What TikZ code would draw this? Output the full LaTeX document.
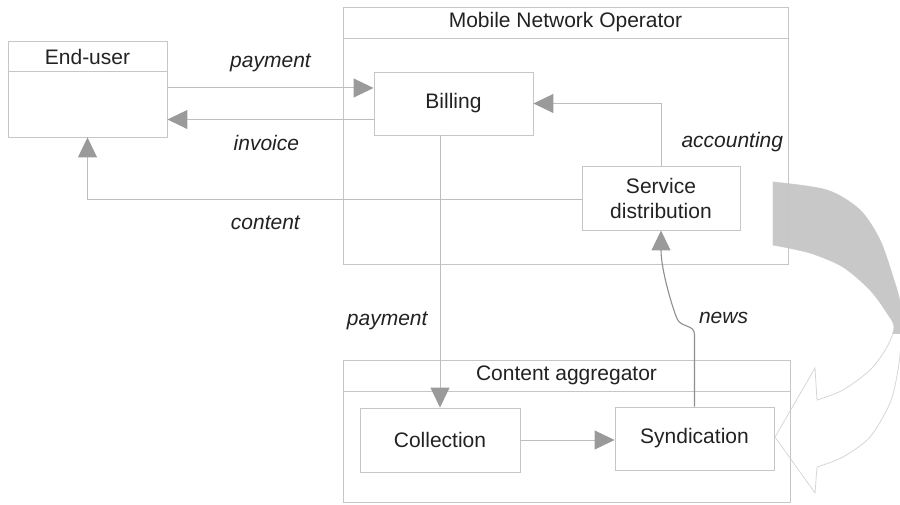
\documentclass[tikz,border=0pt]{standalone}
\usepackage{fontspec}
\setmainfont{Liberation Sans}
\usetikzlibrary{arrows.meta}

\definecolor{boxgray}{HTML}{C6C6C6}
\definecolor{linegray}{HTML}{BEBEBE}
\definecolor{headgray}{HTML}{9A9A9A}
\definecolor{newsgray}{HTML}{8E8E8E}
\definecolor{ringgray}{HTML}{C8C8C8}
\definecolor{ringline}{HTML}{D6D6D6}
\definecolor{textgray}{HTML}{222222}

\tikzset{
  box/.style={draw=boxgray, line width=0.9pt, rectangle, inner sep=0pt,
    font=\fontsize{21}{25}\selectfont, text=textgray, align=center},
  title/.style={font=\fontsize{21}{25}\selectfont, text=textgray},
  rule/.style={draw=boxgray, line width=0.9pt},
  lbl/.style={font=\fontsize{21}{25}\selectfont\itshape, text=textgray, inner sep=0pt},
  flow/.style={draw=linegray, line width=1pt,
    -{Triangle[length=20pt,width=19pt,color=headgray]}},
  newsflow/.style={flow, draw=newsgray, line width=1.1pt},
}

\begin{document}
\begin{tikzpicture}[x=1pt,y=1pt]
\useasboundingbox (0,0) rectangle (900,504);

% round arrow in the back, grey on top and open below
\draw[ringline, line width=0.8pt, save path=\ringpath]
  plot[smooth] coordinates {(773,322) (827,314) (860,294) (880,264) (893,227)
    (900,201) (901,164) (898,134) (890,101) (870,67) (843,47) (817,37)}
  -- (815,11) -- (775,67) -- (815,136) -- (817,104)
  -- plot[smooth] coordinates {(817,104) (843,114) (870,134) (887,157)
    (894,177) (887,191) (870,214) (843,237) (810,251) (773,259)}
  -- cycle;
\begin{scope}
  \clip (760,170) rectangle (900,330);
  \fill[ringgray, use path=\ringpath];
\end{scope}

% end-user
\node[box, minimum width=159pt, minimum height=96pt] (user) at (87.5,415) {};
\node[title] (usert) at ([yshift=-16pt]user.north) {End-user};
\draw[rule] ([yshift=-31pt]user.north west) -- ([yshift=-31pt]user.north east);

% operator
\node[box, minimum width=445pt, minimum height=257pt] (mno) at (565.5,368.5) {};
\node[title] (mnot) at ([yshift=-16pt]mno.north) {Mobile Network Operator};
\draw[rule] ([yshift=-32pt]mno.north west) -- ([yshift=-32pt]mno.north east);
\node[box, minimum width=159pt, minimum height=63pt] (billing) at (453.5,400.5) {Billing};
\node[box, minimum width=158pt, minimum height=64pt] (servdist) at (661,306) {Service\\distribution};

% aggregator
\node[box, minimum width=447pt, minimum height=142pt] (agg) at (566.5,73) {};
\node[title] (aggt) at ([yshift=-16pt]agg.north) {Content aggregator};
\draw[rule] ([yshift=-32pt]agg.north west) -- ([yshift=-32pt]agg.north east);
\node[box, minimum width=160pt, minimum height=64pt] (collection) at (440,64) {Collection};
\node[box, minimum width=159pt, minimum height=63pt] (synd) at (694.5,65.5) {Syndication};

% flows
\draw[flow] ([yshift=1pt]user.east) -- ([yshift=1pt]user.east -| billing.west)
  node[lbl, midway, yshift=25pt] {payment};
\draw[flow] ([yshift=-16pt]billing.west) -- ([yshift=-16pt]billing.west -| user.east)
  node[lbl, pos=0.52, yshift=-23pt] {invoice};
\draw[flow] ([yshift=-2pt]servdist.west) -| (user.south)
  node[lbl, pos=0.32, yshift=-23pt] {content};
\draw[flow] (servdist.north) |- (billing.east)
  node[lbl, pos=0.19, anchor=west, xshift=20pt] {accounting};
\draw[flow] (billing.south -| collection.north) -- (collection.north)
  node[lbl, pos=0.68, anchor=east, xshift=-12pt] {payment};
\draw[flow] (collection.east) -- (collection.east -| synd.west);
\draw[newsflow] (synd.north) -- ++(0,72)
  .. controls +(0,10) and +(4,-8) .. ++(-17,15)
  node[lbl, anchor=west, xshift=21pt, yshift=2pt] {news}
  .. controls +(-4,8) and +(0,-40) .. (servdist.south);
\end{tikzpicture}
\end{document}
